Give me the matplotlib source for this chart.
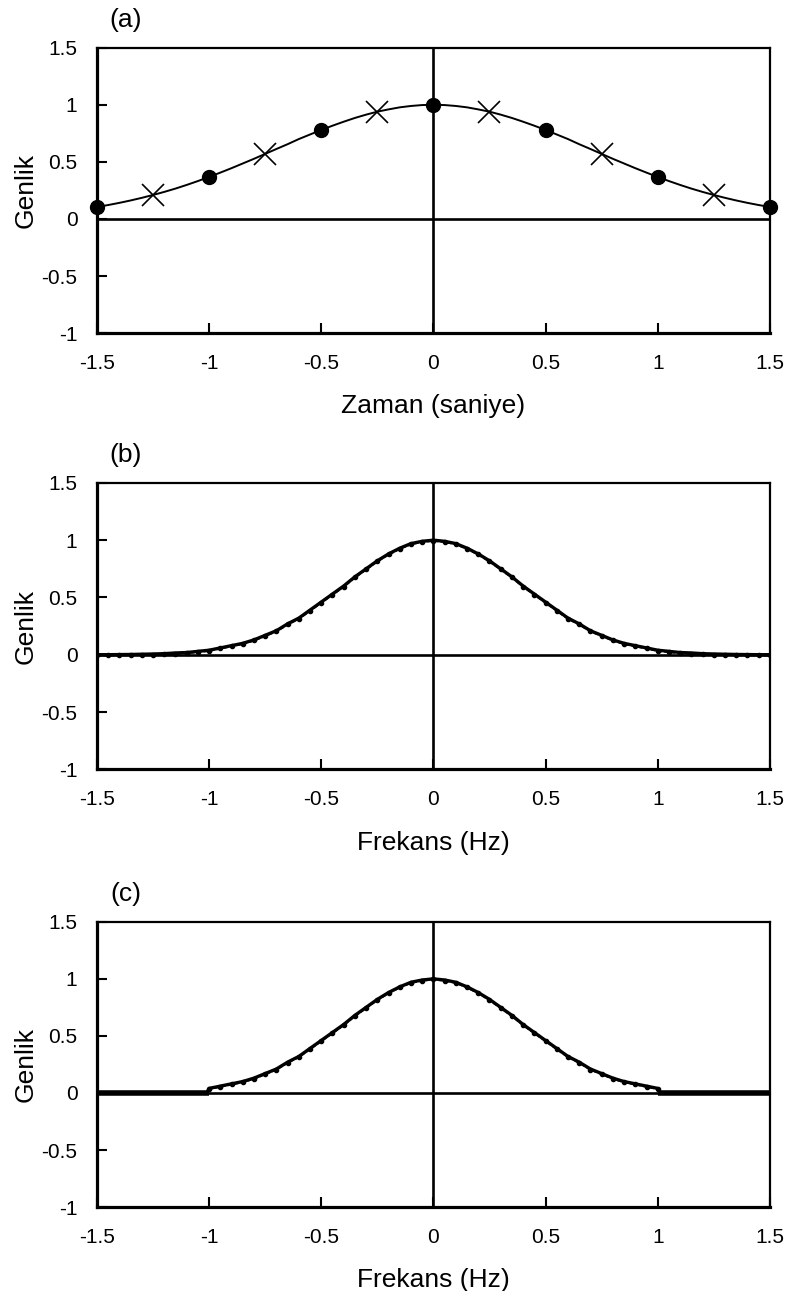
import numpy as np
import matplotlib
matplotlib.use('Agg')
import matplotlib.pyplot as plt

plt.rcParams['font.family'] = ['Liberation Sans', 'DejaVu Sans']

# (a) time domain, read at 0.05 s steps for t >= 0 (curve is symmetric)
t_half = [0.0, 0.05, 0.1, 0.15, 0.2, 0.25, 0.3, 0.35, 0.4, 0.45, 0.5,
          0.55, 0.6, 0.65, 0.7, 0.75, 0.8, 0.85, 0.9, 0.95, 1.0,
          1.05, 1.1, 1.15, 1.2, 1.25, 1.3, 1.35, 1.4, 1.45, 1.5]
a_half = [1.00, 0.998, 0.99, 0.978, 0.96, 0.94, 0.914, 0.885, 0.852, 0.817, 0.78,
          0.74, 0.70, 0.655, 0.613, 0.57, 0.527, 0.486, 0.445, 0.406, 0.368,
          0.332, 0.298, 0.266, 0.237, 0.21, 0.185, 0.162, 0.141, 0.122, 0.105]
dot_t = [-1.5, -1.0, -0.5, 0.0, 0.5, 1.0, 1.5]
dot_a = [0.105, 0.368, 0.78, 1.00, 0.78, 0.368, 0.105]
cross_t = [-1.25, -0.75, -0.25, 0.25, 0.75, 1.25]
cross_a = [0.21, 0.57, 0.94, 0.94, 0.57, 0.21]

# (b) spectrum, read at 0.05 Hz steps for f >= 0
f_half = t_half
b_half = [1.00, 0.99, 0.97, 0.93, 0.88, 0.82, 0.75, 0.68, 0.60, 0.53, 0.46,
          0.39, 0.32, 0.27, 0.21, 0.17, 0.13, 0.10, 0.08, 0.06, 0.04,
          0.03, 0.02, 0.016, 0.01, 0.007, 0.005, 0.003, 0.002, 0.001, 0.001]
bd_half = [0.995, 0.985, 0.965, 0.925, 0.875, 0.815, 0.745, 0.675, 0.595, 0.525, 0.455,
           0.385, 0.315, 0.265, 0.205, 0.165, 0.125, 0.095, 0.075, 0.055, 0.035,
           0.025, 0.015, 0.01, 0.005, 0.002, 0.0, -0.002, -0.003, -0.004, -0.005]

# (c) truncated spectrum (zero outside |f| > 1)
f_c = [-1.5, -1.01, -1.0, -0.95, -0.9, -0.85, -0.8, -0.75, -0.7, -0.65, -0.6,
       -0.55, -0.5, -0.45, -0.4, -0.35, -0.3, -0.25, -0.2, -0.15, -0.1, -0.05,
       0.0, 0.05, 0.1, 0.15, 0.2, 0.25, 0.3, 0.35, 0.4, 0.45, 0.5, 0.55, 0.6,
       0.65, 0.7, 0.75, 0.8, 0.85, 0.9, 0.95, 1.0, 1.01, 1.5]
c_vals = [0.0, 0.0, 0.04, 0.06, 0.08, 0.10, 0.13, 0.17, 0.21, 0.27, 0.32,
          0.39, 0.46, 0.53, 0.60, 0.68, 0.75, 0.82, 0.88, 0.93, 0.97, 0.99,
          1.00, 0.99, 0.97, 0.93, 0.88, 0.82, 0.75, 0.68, 0.60, 0.53, 0.46,
          0.39, 0.32, 0.27, 0.21, 0.17, 0.13, 0.10, 0.08, 0.06, 0.04, 0.0, 0.0]
c_dots = [0.0, 0.0, 0.035, 0.055, 0.075, 0.095, 0.125, 0.165, 0.205, 0.265, 0.315,
          0.385, 0.455, 0.525, 0.595, 0.675, 0.745, 0.815, 0.875, 0.925, 0.965, 0.985,
          0.995, 0.985, 0.965, 0.925, 0.875, 0.815, 0.745, 0.675, 0.595, 0.525, 0.455,
          0.385, 0.315, 0.265, 0.205, 0.165, 0.125, 0.095, 0.075, 0.055, 0.035, 0.0, 0.0]

xticks = [-1.5, -1, -0.5, 0, 0.5, 1, 1.5]
yticks = [-1, -0.5, 0, 0.5, 1, 1.5]


def mirror(x, y):
    x = np.asarray(x)
    y = np.asarray(y)
    return np.concatenate([-x[:0:-1], x]), np.concatenate([y[:0:-1], y])


def fmt(v):
    return '{:g}'.format(v)


def style_axes(ax, xlabel, tag):
    ax.set_xlim(-1.5, 1.5)
    ax.set_ylim(-1, 1.5)
    ax.set_xticks(xticks)
    ax.set_yticks(yticks)
    ax.set_xticklabels([fmt(v) for v in xticks])
    ax.set_yticklabels([fmt(v) for v in yticks])
    ax.tick_params(direction='in', length=7, width=1.5, labelsize=15,
                   color='black', pad=15)
    ax.tick_params(axis='y', pad=14)
    for side in ['left', 'bottom']:
        ax.spines[side].set_linewidth(2.3)
    for side in ['top', 'right']:
        ax.spines[side].set_linewidth(1.6)
    ax.axhline(0, color='black', lw=1.9, zorder=1)
    ax.axvline(0, color='black', lw=1.9, zorder=1)
    ax.set_xlabel(xlabel, fontsize=19)
    ax.set_ylabel('Genlik', fontsize=19)
    ax.xaxis.set_label_coords(0.5, -0.215)
    ax.yaxis.set_label_coords(-0.088, 0.5)
    ax.text(0.043, 1.055, tag, transform=ax.transAxes, fontsize=19,
            ha='center', va='bottom')


fig = plt.figure(figsize=(7.88, 12.91), dpi=100)
ax1 = fig.add_axes([0.123, 0.742, 0.854, 0.221])
ax2 = fig.add_axes([0.123, 0.404, 0.854, 0.222])
ax3 = fig.add_axes([0.123, 0.065, 0.854, 0.221])

# (a)
tt, aa = mirror(t_half, a_half)
ax1.plot(tt, aa, color='black', lw=1.4, zorder=3)
ax1.plot(dot_t, dot_a, 'o', color='black', ms=10, clip_on=False, zorder=4)
ax1.plot(cross_t, cross_a, 'x', color='black', ms=16, mew=1.2, zorder=4)
style_axes(ax1, 'Zaman (saniye)', '(a)')

# (b)
ff, bb = mirror(f_half, b_half)
fd, bd = mirror(f_half, bd_half)
ax2.plot(ff, bb, color='black', lw=2.4, zorder=3)
ax2.plot(fd, bd, color='black', lw=1.6, ls=(0, (2, 1)), marker='o', ms=3,
         zorder=3)
style_axes(ax2, 'Frekans (Hz)', '(b)')

# (c)
ax3.plot(f_c, c_vals, color='black', lw=2.4, zorder=3)
ax3.plot(f_c, c_dots, color='black', lw=1.6, ls=(0, (2, 1)), marker='o',
         ms=3, zorder=3, markevery=list(range(2, len(f_c) - 2)))
ax3.plot([-1.5, -1.0], [0, 0], color='black', lw=4, zorder=3,
         solid_capstyle='butt')
ax3.plot([1.0, 1.5], [0, 0], color='black', lw=4, zorder=3,
         solid_capstyle='butt')
style_axes(ax3, 'Frekans (Hz)', '(c)')

fig.savefig('out.png', dpi=100)
